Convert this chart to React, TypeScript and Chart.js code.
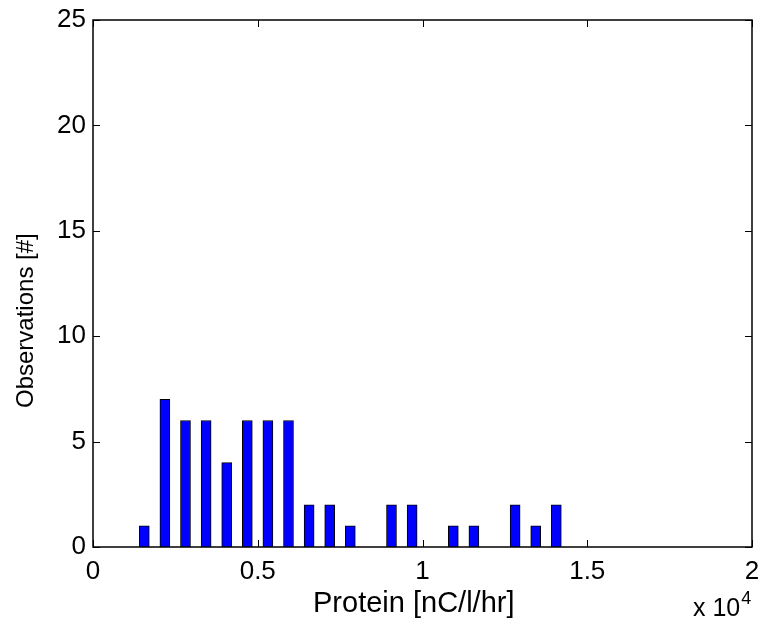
import React, { useEffect, useRef } from "react";
import { Chart, registerables } from "chart.js";

Chart.register(...registerables);

// Histogram bin centres (nC/l/hr) and observation counts
const binCenters = [1557, 2182, 2807, 3433, 4058, 4683, 5308, 5933, 6559, 7184, 7809, 9059, 9685, 10935, 11560, 12811, 13436, 14061];
const counts = [1, 7, 6, 6, 4, 6, 6, 6, 2, 2, 1, 2, 2, 1, 1, 2, 1, 2];
const xTicks = [0, 5000, 10000, 15000, 20000];
const yTicks = [0, 5, 10, 15, 20, 25];
const xTitle = "Protein [nC/l/hr]";
const yTitle = "Observations [#]";

const FONT = "'Liberation Sans', Arial, Helvetica, sans-serif";

const framePlugin = {
  id: "frame",
  afterDraw(chart: any) {
    const { ctx, chartArea } = chart;
    const { left, right, top, bottom } = chartArea;
    const xs = chart.scales.x;
    const ys = chart.scales.y;
    ctx.save();
    ctx.strokeStyle = "#000";
    ctx.lineWidth = 1.5;
    ctx.strokeRect(left, top, right - left, bottom - top);
    const tl = 7;
    ctx.lineWidth = 1;
    ctx.beginPath();
    for (const v of xTicks) {
      const px = Math.round(xs.getPixelForValue(v)) + 0.5;
      ctx.moveTo(px, bottom);
      ctx.lineTo(px, bottom - tl);
      ctx.moveTo(px, top);
      ctx.lineTo(px, top + tl);
    }
    for (const v of yTicks) {
      const py = Math.round(ys.getPixelForValue(v)) + 0.5;
      ctx.moveTo(left, py);
      ctx.lineTo(left + tl, py);
      ctx.moveTo(right, py);
      ctx.lineTo(right - tl, py);
    }
    ctx.stroke();

    ctx.fillStyle = "#000";
    ctx.font = `29px ${FONT}`;
    ctx.textAlign = "left";
    ctx.textBaseline = "middle";
    ctx.fillText(xTitle, 313, 604);
    ctx.save();
    ctx.translate(26, 408);
    ctx.rotate(-Math.PI / 2);
    ctx.font = `24px ${FONT}`;
    ctx.fillText(yTitle, 0, 0);
    ctx.restore();

    ctx.textAlign = "left";
    ctx.textBaseline = "alphabetic";
    ctx.font = `25px ${FONT}`;
    ctx.fillText("x 10", 693, 616);
    const w = ctx.measureText("x 10").width;
    ctx.font = `18px ${FONT}`;
    ctx.fillText("4", 693 + w + 1, 604);
    ctx.restore();
  },
};

export default function App() {
  const ref = useRef<HTMLCanvasElement | null>(null);
  useEffect(() => {
    if (!ref.current) return;
    const chart = new Chart(ref.current, {
      type: "bar",
      data: {
        datasets: [
          {
            data: binCenters.map((x, i) => ({ x, y: counts[i] })),
            backgroundColor: "#0000ff",
            borderColor: "#000000",
            borderWidth: 1,
            barThickness: 10,
          } as any,
        ],
      },
      options: {
        animation: false,
        responsive: false,
        maintainAspectRatio: false,
        layout: { padding: { top: 20, right: 11, left: 0, bottom: 0 } },
        plugins: { legend: { display: false }, tooltip: { enabled: false } },
        scales: {
          x: {
            type: "linear",
            min: 0,
            max: 20000,
            offset: false,
            afterFit: (s: any) => {
              s.height = 82;
              s.paddingLeft = 0;
              s.paddingRight = 0;
            },
            afterBuildTicks: (s: any) => {
              s.ticks = xTicks.map((v) => ({ value: v }));
            },
            grid: { display: false, drawTicks: false, offset: false },
            border: { display: false },
            ticks: {
              color: "#000",
              font: { family: FONT, size: 26 },
              padding: 9,
              maxRotation: 0,
              callback: (v: any) => String(Number(v) / 10000),
            },
          },
          y: {
            type: "linear",
            min: 0,
            max: 25,
            afterFit: (s: any) => {
              s.width = 93;
              s.paddingTop = 0;
              s.paddingBottom = 0;
            },
            afterBuildTicks: (s: any) => {
              s.ticks = yTicks.map((v) => ({ value: v }));
            },
            grid: { display: false, drawTicks: false },
            border: { display: false },
            ticks: {
              color: "#000",
              font: { family: FONT, size: 26 },
              padding: 7,
            },
          },
        },
      },
      plugins: [framePlugin],
    });
    return () => chart.destroy();
  }, []);
  return (
    <div style={{ position: "absolute", left: 0, top: 0, width: 763, height: 629, background: "#fff" }}>
      <canvas ref={ref} width={763} height={629} style={{ width: 763, height: 629 }} />
    </div>
  );
}
